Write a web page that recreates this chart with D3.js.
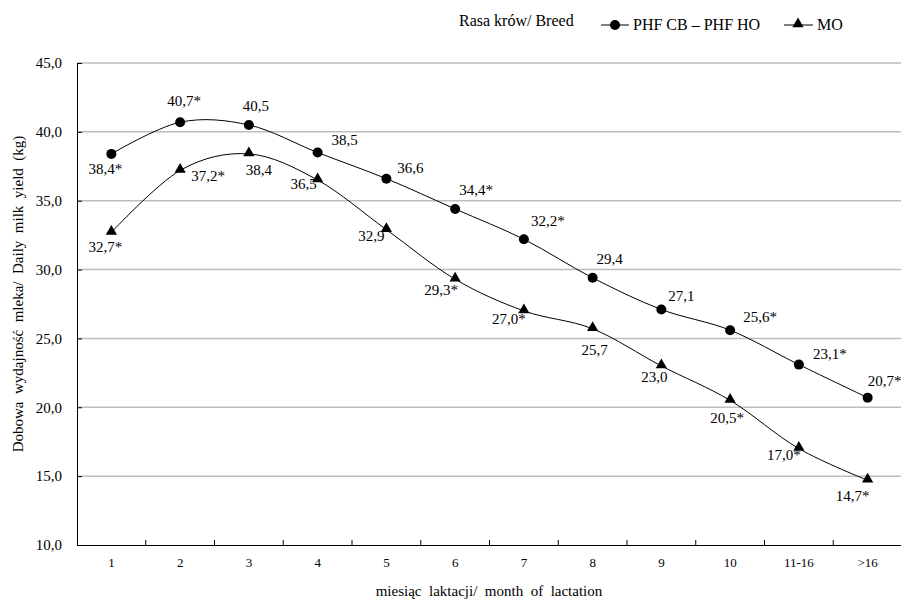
<!DOCTYPE html>
<html>
  <head>
    <meta charset="utf-8" />
    <title>Dobowa wydajność mleka</title>
    <style>
      body {
        margin: 0;
        background: #fff;
      }
      svg {
        display: block;
      }
      svg text {
        font-family: "Liberation Serif", "Times New Roman", Times, serif;
      }
    </style>
  </head>
  <body>
    <svg class="canvas"></svg>
    <script src="https://cdn.jsdelivr.net/npm/d3@7"></script>
    <script>
      const months = ["1", "2", "3", "4", "5", "6", "7", "8", "9", "10", "11-16", ">16"];
      const phfValues = [38.4, 40.7, 40.5, 38.5, 36.6, 34.4, 32.2, 29.4, 27.1, 25.6, 23.1, 20.7];
      const phfStar = [1, 1, 0, 0, 0, 1, 1, 0, 0, 1, 1, 1];
      const moValues = [32.7, 37.2, 38.4, 36.5, 32.9, 29.3, 27.0, 25.7, 23.0, 20.5, 17.0, 14.7];
      const moStar = [1, 1, 0, 0, 0, 1, 1, 0, 0, 1, 1, 1];
      const yTicks = [10, 15, 20, 25, 30, 35, 40, 45];

      // label placement (dx from point to text centre, dy to baseline)
      const phfLabelPos = [[-6, 20], [4, -16], [7, -14], [27, -8], [24, -6], [21, -14],
        [24, -13], [17, -14], [20, -9], [30, -8], [31, -6], [17, -12]];
      const moLabelPos = [[-6, 20], [28, 11], [10, 21], [-14, 9], [-15, 11], [-14, 16],
        [-15, 13], [2, 26], [-7, 16], [-3, 23], [-15, 11], [-15, 21]];

      const width = 901,
        height = 601;
      const plotLeft = 77,
        plotRight = 902,
        plotTop = 63,
        plotBottom = 545;

      const fmt = (v) => d3.format(".1f")(v).replace(".", ",");

      const svg = d3.select(".canvas").attr("width", width).attr("height", height);

      const x = d3.scaleBand().domain(months).range([plotLeft, plotRight]);
      const y = d3.scaleLinear().domain([10, 45]).range([plotBottom, plotTop]);

      //----------------grid----------------
      svg
        .append("g")
        .selectAll("line")
        .data(yTicks.filter((d) => d > 10))
        .join("line")
        .attr("x1", plotLeft)
        .attr("x2", width)
        .attr("y1", (d) => y(d))
        .attr("y2", (d) => y(d))
        .attr("stroke", "#bdbdbd")
        .attr("stroke-width", 1.5);

      //----------------axes----------------
      const yAxis = svg
        .append("g")
        .attr("transform", `translate(${plotLeft},0)`)
        .call(d3.axisLeft(y).tickValues(yTicks).tickFormat(fmt).tickSize(-5).tickPadding(15))
        .attr("font-family", null)
        .attr("font-size", 15);
      yAxis.select(".domain").attr("stroke", "#000").attr("d", `M0.5,${plotTop}V${plotBottom}`);
      yAxis.selectAll("text").attr("fill", "#000");

      const xAxis = svg
        .append("g")
        .attr("transform", `translate(0,${plotBottom})`)
        .call(d3.axisBottom(x).tickSize(0).tickPadding(13))
        .attr("font-family", null)
        .attr("font-size", 13);
      xAxis.select(".domain").attr("stroke", "#000").attr("d", `M${plotLeft},0.5H${width}`);
      xAxis.selectAll("text").attr("fill", "#000");

      svg
        .append("g")
        .selectAll("line")
        .data(months.slice(1))
        .join("line")
        .attr("x1", (d) => x(d))
        .attr("x2", (d) => x(d))
        .attr("y1", plotBottom)
        .attr("y2", plotBottom - 5)
        .attr("stroke", "#000");

      //----------------titles----------------
      svg
        .append("text")
        .attr("x", 489)
        .attr("y", 596)
        .attr("text-anchor", "middle")
        .attr("font-size", 15)
        .attr("xml:space", "preserve")
        .text("miesiąc  laktacji/  month  of  lactation");

      svg
        .append("text")
        .attr("transform", "translate(23,294) rotate(-90)")
        .attr("text-anchor", "middle")
        .attr("font-size", 15)
        .attr("xml:space", "preserve")
        .text("Dobowa  wydajność  mleka/  Daily  milk  yield  (kg)");

      //----------------series----------------
      const line = d3
        .line()
        .x((d, i) => x(months[i]) + x.bandwidth() / 2)
        .y((d) => y(d))
        .curve(d3.curveCardinal.tension(0));

      const triangle = d3.symbol().type(d3.symbolTriangle).size(55);

      function drawSeries(values, stars, pos, marker) {
        const g = svg.append("g");
        g.append("path")
          .attr("d", line(values))
          .attr("fill", "none")
          .attr("stroke", "#000")
          .attr("stroke-width", 1);

        const pts = g
          .selectAll(".pt")
          .data(values)
          .join("g")
          .attr("transform", (d, i) => `translate(${x(months[i]) + x.bandwidth() / 2},${y(d)})`);
        if (marker === "circle") pts.append("circle").attr("r", 5).attr("fill", "#000");
        else pts.append("path").attr("d", triangle).attr("transform", "translate(0,-1)").attr("fill", "#000");

        pts
          .append("text")
          .attr("x", (d, i) => pos[i][0])
          .attr("y", (d, i) => pos[i][1])
          .attr("text-anchor", "middle")
          .attr("font-size", 15)
          .text((d, i) => fmt(d) + (stars[i] ? "*" : ""));
      }

      drawSeries(phfValues, phfStar, phfLabelPos, "circle");
      drawSeries(moValues, moStar, moLabelPos, "triangle");

      //----------------legend----------------
      const legend = svg.append("g");
      legend
        .append("text")
        .attr("x", 459)
        .attr("y", 26)
        .attr("font-size", 16)
        .text("Rasa krów/ Breed");

      legend.append("line").attr("x1", 601).attr("x2", 629).attr("y1", 25).attr("y2", 25).attr("stroke", "#000");
      legend.append("circle").attr("cx", 615).attr("cy", 25).attr("r", 5);
      legend.append("text").attr("x", 633).attr("y", 30).attr("font-size", 16).text("PHF CB – PHF HO");

      legend.append("line").attr("x1", 784).attr("x2", 813).attr("y1", 25).attr("y2", 25).attr("stroke", "#000");
      legend.append("path").attr("d", triangle).attr("transform", "translate(798,24)");
      legend.append("text").attr("x", 817).attr("y", 30).attr("font-size", 16).text("MO");
    </script>
  </body>
</html>
